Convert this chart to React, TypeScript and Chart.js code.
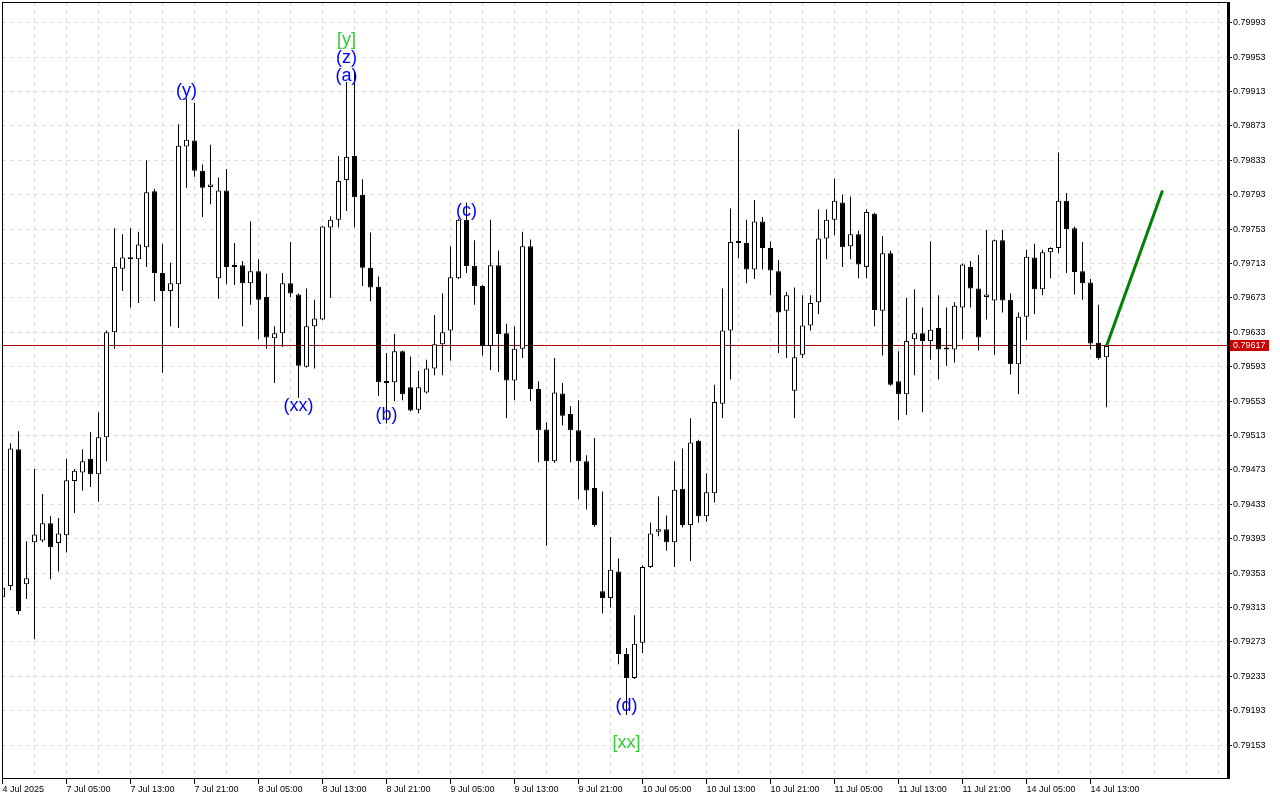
import React, { useEffect, useRef } from "react";
import { Chart, registerables } from "chart.js";

Chart.register(...registerables);

// ---- H1 candles (index 0 = first visible bar) ----
const openP = [
  0.79325, 0.79338, 0.79497, 0.79340, 0.79389, 0.79391, 0.79411, 0.79388, 0.79397, 0.79460,
  0.79470, 0.79486, 0.79468, 0.79511, 0.79633, 0.79707, 0.79720, 0.79718, 0.79732, 0.79797,
  0.79702, 0.79681, 0.79689, 0.79849, 0.79856, 0.79821, 0.79802, 0.79696, 0.79798, 0.79711,
  0.79711, 0.79690, 0.79704, 0.79674, 0.79626, 0.79632, 0.79690, 0.79677, 0.79593, 0.79640,
  0.79648, 0.79755, 0.79764, 0.79810, 0.79838, 0.79793, 0.79708, 0.79686, 0.79574, 0.79575,
  0.79611, 0.79569, 0.79543, 0.79563, 0.79591, 0.79619, 0.79635, 0.79696, 0.79764, 0.79710,
  0.79687, 0.79617, 0.79711, 0.79632, 0.79577, 0.79614, 0.79733, 0.79567, 0.79520, 0.79483,
  0.79562, 0.79538, 0.79519, 0.79483, 0.79452, 0.79332, 0.79324, 0.79355, 0.79259, 0.79231,
  0.79272, 0.79360, 0.79401, 0.79404, 0.79389, 0.79451, 0.79409, 0.79507, 0.79419, 0.79446,
  0.79550, 0.79635, 0.79739, 0.79737, 0.79706, 0.79762, 0.79731, 0.79704, 0.79658, 0.79565,
  0.79607, 0.79641, 0.79668, 0.79742, 0.79764, 0.79784, 0.79733, 0.79747, 0.79709, 0.79771,
  0.79658, 0.79725, 0.79576, 0.79561, 0.79625, 0.79632, 0.79623, 0.79638, 0.79613, 0.79613,
  0.79662, 0.79709, 0.79684, 0.79674, 0.79670, 0.79740, 0.79671, 0.79596, 0.79651, 0.79720,
  0.79683, 0.79726, 0.79731, 0.79786, 0.79754, 0.79704, 0.79691, 0.79621, 0.79604,
];
const highP = [
  0.79340, 0.79504, 0.79518, 0.79390, 0.79474, 0.79445, 0.79419, 0.79417, 0.79486, 0.79474,
  0.79497, 0.79517, 0.79540, 0.79635, 0.79754, 0.79747, 0.79754, 0.79750, 0.79833, 0.79800,
  0.79736, 0.79714, 0.79875, 0.79905, 0.79900, 0.79828, 0.79851, 0.79813, 0.79823, 0.79737,
  0.79716, 0.79762, 0.79718, 0.79701, 0.79640, 0.79702, 0.79738, 0.79678, 0.79684, 0.79671,
  0.79757, 0.79768, 0.79838, 0.79924, 0.79936, 0.79811, 0.79749, 0.79698, 0.79609, 0.79631,
  0.79612, 0.79605, 0.79588, 0.79601, 0.79653, 0.79678, 0.79733, 0.79765, 0.79784, 0.79740,
  0.79688, 0.79764, 0.79728, 0.79643, 0.79640, 0.79750, 0.79741, 0.79576, 0.79528, 0.79603,
  0.79574, 0.79547, 0.79554, 0.79490, 0.79510, 0.79448, 0.79395, 0.79370, 0.79266, 0.79304,
  0.79362, 0.79412, 0.79442, 0.79420, 0.79483, 0.79498, 0.79533, 0.79508, 0.79469, 0.79572,
  0.79684, 0.79777, 0.79869, 0.79764, 0.79787, 0.79767, 0.79739, 0.79717, 0.79680, 0.79685,
  0.79676, 0.79676, 0.79776, 0.79776, 0.79812, 0.79793, 0.79791, 0.79751, 0.79776, 0.79772,
  0.79745, 0.79728, 0.79611, 0.79673, 0.79683, 0.79662, 0.79739, 0.79676, 0.79662, 0.79668,
  0.79713, 0.79716, 0.79723, 0.79752, 0.79741, 0.79752, 0.79678, 0.79656, 0.79729, 0.79736,
  0.79729, 0.79732, 0.79842, 0.79795, 0.79756, 0.79738, 0.79695, 0.79665, 0.79617,
];
const lowP = [
  0.79322, 0.79333, 0.79305, 0.79323, 0.79276, 0.79389, 0.79346, 0.79355, 0.79377, 0.79423,
  0.79449, 0.79453, 0.79436, 0.79483, 0.79614, 0.79681, 0.79662, 0.79667, 0.79709, 0.79669,
  0.79586, 0.79640, 0.79638, 0.79801, 0.79814, 0.79767, 0.79782, 0.79672, 0.79689, 0.79688,
  0.79640, 0.79665, 0.79625, 0.79614, 0.79574, 0.79616, 0.79674, 0.79557, 0.79592, 0.79591,
  0.79647, 0.79673, 0.79755, 0.79774, 0.79755, 0.79687, 0.79669, 0.79559, 0.79527, 0.79553,
  0.79554, 0.79541, 0.79539, 0.79562, 0.79583, 0.79583, 0.79600, 0.79695, 0.79702, 0.79665,
  0.79606, 0.79589, 0.79587, 0.79533, 0.79554, 0.79603, 0.79553, 0.79482, 0.79385, 0.79481,
  0.79525, 0.79482, 0.79439, 0.79427, 0.79407, 0.79306, 0.79313, 0.79247, 0.79188, 0.79230,
  0.79260, 0.79359, 0.79396, 0.79379, 0.79360, 0.79406, 0.79367, 0.79412, 0.79413, 0.79435,
  0.79533, 0.79578, 0.79719, 0.79690, 0.79695, 0.79706, 0.79676, 0.79609, 0.79603, 0.79533,
  0.79603, 0.79635, 0.79654, 0.79718, 0.79746, 0.79709, 0.79718, 0.79696, 0.79696, 0.79640,
  0.79606, 0.79571, 0.79531, 0.79537, 0.79583, 0.79540, 0.79601, 0.79578, 0.79594, 0.79598,
  0.79625, 0.79662, 0.79612, 0.79648, 0.79607, 0.79656, 0.79584, 0.79561, 0.79624, 0.79654,
  0.79676, 0.79696, 0.79725, 0.79702, 0.79677, 0.79671, 0.79613, 0.79601, 0.79546,
];
const closeP = [
  0.79336, 0.79498, 0.79309, 0.79347, 0.79398, 0.79411, 0.79383, 0.79399, 0.79461, 0.79472,
  0.79483, 0.79468, 0.79511, 0.79633, 0.79709, 0.79720, 0.79718, 0.79735, 0.79796, 0.79702,
  0.79681, 0.79690, 0.79850, 0.79857, 0.79821, 0.79801, 0.79805, 0.79798, 0.79709, 0.79709,
  0.79690, 0.79704, 0.79671, 0.79627, 0.79632, 0.79690, 0.79678, 0.79594, 0.79640, 0.79649,
  0.79756, 0.79764, 0.79809, 0.79837, 0.79790, 0.79708, 0.79685, 0.79575, 0.79576, 0.79611,
  0.79561, 0.79542, 0.79569, 0.79591, 0.79619, 0.79633, 0.79697, 0.79764, 0.79710, 0.79687,
  0.79617, 0.79711, 0.79631, 0.79577, 0.79614, 0.79733, 0.79567, 0.79519, 0.79483, 0.79563,
  0.79536, 0.79519, 0.79483, 0.79449, 0.79409, 0.79324, 0.79357, 0.79259, 0.79231, 0.79271,
  0.79360, 0.79399, 0.79404, 0.79389, 0.79450, 0.79409, 0.79505, 0.79419, 0.79447, 0.79552,
  0.79635, 0.79738, 0.79737, 0.79706, 0.79762, 0.79731, 0.79705, 0.79656, 0.79676, 0.79604,
  0.79641, 0.79667, 0.79742, 0.79764, 0.79786, 0.79732, 0.79747, 0.79712, 0.79773, 0.79659,
  0.79725, 0.79572, 0.79561, 0.79623, 0.79632, 0.79623, 0.79636, 0.79613, 0.79613, 0.79664,
  0.79712, 0.79684, 0.79627, 0.79677, 0.79740, 0.79670, 0.79596, 0.79651, 0.79721, 0.79683,
  0.79726, 0.79731, 0.79786, 0.79753, 0.79703, 0.79690, 0.79620, 0.79603, 0.79617,
];

// time labels, one every LABEL_EVERY bars starting at bar 0
const timeLabels = [
  "4 Jul 2025", "7 Jul 05:00", "7 Jul 13:00", "7 Jul 21:00", "8 Jul 05:00", "8 Jul 13:00",
  "8 Jul 21:00", "9 Jul 05:00", "9 Jul 13:00", "9 Jul 21:00", "10 Jul 05:00", "10 Jul 13:00",
  "10 Jul 21:00", "11 Jul 05:00", "11 Jul 13:00", "11 Jul 21:00", "14 Jul 05:00", "14 Jul 13:00",
];
const LABEL_EVERY = 8;
const GRID_EVERY = 4;

const priceTicks = [
  0.79993, 0.79953, 0.79913, 0.79873, 0.79833, 0.79793, 0.79753, 0.79713, 0.79673, 0.79633,
  0.79593, 0.79553, 0.79513, 0.79473, 0.79433, 0.79393, 0.79353, 0.79313, 0.79273, 0.79233,
  0.79193, 0.79153,
];
const currentPrice = 0.79617;

// projection line (bar index, price)
const projX = [138, 145];
const projY = [0.79617, 0.79798];

// wave labels
const waveText = ["(y)", "(xx)", "[y]", "(z)", "(a)", "(b)", "(c)", "(d)", "[xx]"];
const waveIndex = [23, 37, 43, 43, 43, 48, 58, 78, 78];
const wavePrice = [0.79914, 0.79547, 0.79973, 0.79952, 0.79931, 0.79537, 0.79774, 0.79199, 0.79155];
const waveColor = ["#0000ff", "#0000ff", "#32cd32", "#0000ff", "#0000ff", "#0000ff", "#0000ff", "#0000ff", "#32cd32"];

const Y_MIN = 0.791136;
const Y_MAX = 0.800171;
const X_MIN = -0.0625;
const X_MAX = 153.0625;

const FONT = "'Liberation Sans', Arial, sans-serif";

export default function App() {
  const ref = useRef<HTMLCanvasElement>(null);

  useEffect(() => {
    const canvas = ref.current;
    if (!canvas) return;
    const bodies = openP.map((o, i) => ({ x: i, y: [o, closeP[i]] }));
    const wicks = openP.map((_, i) => ({ x: i, y: [lowP[i], highP[i]] }));
    const bull = openP.map((o, i) => closeP[i] >= o);
    const proj = projX.map((x, i) => ({ x, y: projY[i] }));

    const gridTicks: number[] = [];
    for (let v = 0; v <= X_MAX; v += GRID_EVERY) gridTicks.push(v);

    const hasLabel = (v: number) => {
      const n = Math.round(v);
      return n % LABEL_EVERY === 0 && n / LABEL_EVERY < timeLabels.length;
    };

    const overlay = {
      id: "overlay",
      beforeDatasetsDraw(chart: any) {
        const { ctx, chartArea: a, scales } = chart;
        const y = Math.round(scales.y.getPixelForValue(currentPrice)) - 0.5;
        ctx.save();
        ctx.strokeStyle = "#b40000";
        ctx.lineWidth = 1;
        ctx.beginPath();
        ctx.moveTo(a.left, y);
        ctx.lineTo(a.right, y);
        ctx.stroke();
        ctx.restore();
      },
      afterDatasetsDraw(chart: any) {
        const { ctx, scales } = chart;
        ctx.save();
        ctx.font = `18px ${FONT}`;
        ctx.textAlign = "center";
        ctx.textBaseline = "middle";
        waveText.forEach((t, k) => {
          ctx.fillStyle = waveColor[k];
          ctx.fillText(t, scales.x.getPixelForValue(waveIndex[k]), scales.y.getPixelForValue(wavePrice[k]));
        });
        ctx.restore();
      },
      afterDraw(chart: any) {
        const { ctx, chartArea: a, scales } = chart;
        ctx.save();
        ctx.fillStyle = "#000";
        ctx.fillRect(a.left, a.top, a.right - a.left + 3, 1);
        ctx.fillRect(a.left, a.top, 1, a.bottom - a.top);
        ctx.fillRect(a.left, a.bottom - 1, a.right - a.left, 1);
        ctx.fillRect(a.right, a.top, 3, a.bottom - a.top);
        const y = Math.round(scales.y.getPixelForValue(currentPrice));
        ctx.fillStyle = "#c80000";
        ctx.fillRect(a.right + 3, y - 6, 39, 11);
        ctx.fillStyle = "#fff";
        ctx.font = `9px ${FONT}`;
        ctx.textAlign = "left";
        ctx.textBaseline = "middle";
        ctx.fillText(currentPrice.toFixed(5), a.right + 6, y);
        ctx.restore();
      },
    };

    const chart = new Chart(canvas, {
      type: "bar",
      data: {
        datasets: [
          {
            type: "line",
            data: proj,
            borderColor: "#008000",
            borderWidth: 3,
            pointRadius: 0,
            order: 0,
          } as any,
          {
            type: "bar",
            data: bodies as any,
            backgroundColor: bull.map((b) => (b ? "#ffffff" : "#000000")),
            borderColor: "#000000",
            borderWidth: 1,
            borderSkipped: false,
            barThickness: 5,
            grouped: false,
            inflateAmount: 0,
            minBarLength: 2,
            order: 1,
          } as any,
          {
            type: "bar",
            data: wicks as any,
            backgroundColor: "#000000",
            borderWidth: 0,
            barThickness: 1,
            grouped: false,
            inflateAmount: 0,
            order: 2,
          } as any,
        ],
      },
      options: {
        responsive: false,
        maintainAspectRatio: false,
        animation: false,
        events: [],
        layout: { padding: { left: 2, top: 2, right: 0, bottom: 0 } },
        plugins: { legend: { display: false }, tooltip: { enabled: false } },
        scales: {
          x: {
            type: "linear",
            min: X_MIN,
            max: X_MAX,
            offset: false,
            bounds: "data",
            afterBuildTicks: (s: any) => {
              s.ticks = gridTicks.map((v) => ({ value: v }));
            },
            afterFit: (s: any) => {
              s.height = 21;
              s.paddingLeft = 0;
              s.paddingRight = 0;
            },
            grid: {
              offset: false,
              color: "#dedede",
              lineWidth: 1,
              drawTicks: true,
              tickLength: 5,
              tickWidth: 1,
              tickColor: (c: any) => (c.tick && hasLabel(c.tick.value) ? "#000000" : "rgba(0,0,0,0)"),
            },
            border: { display: false, dash: [4, 4] },
            ticks: {
              autoSkip: false,
              maxRotation: 0,
              minRotation: 0,
              align: "start",
              padding: 0,
              color: "#000",
              font: { family: FONT, size: 9 },
              callback: (v: any) => {
                const n = Math.round(Number(v));
                return hasLabel(n) ? timeLabels[n / LABEL_EVERY] : "";
              },
            },
          } as any,
          y: {
            type: "linear",
            position: "right",
            min: Y_MIN,
            max: Y_MAX,
            bounds: "data",
            beginAtZero: false,
            afterBuildTicks: (s: any) => {
              s.ticks = priceTicks.map((v) => ({ value: v }));
            },
            afterFit: (s: any) => {
              s.width = 53;
              s.paddingTop = 0;
              s.paddingBottom = 0;
            },
            grid: {
              color: "#dedede",
              lineWidth: 1,
              drawTicks: true,
              tickLength: 5,
              tickColor: "#000000",
              tickWidth: 1,
            },
            border: { display: false, dash: [4, 4] },
            ticks: {
              autoSkip: false,
              padding: 1,
              color: "#000",
              crossAlign: "near",
              font: { family: FONT, size: 9 },
              callback: (v: any) => Number(v).toFixed(5),
            },
          } as any,
        },
      },
      plugins: [overlay],
    });

    return () => chart.destroy();
  }, []);

  return (
    <div style={{ position: "fixed", left: 0, top: 0, width: 1280, height: 800, background: "#fff" }}>
      <canvas ref={ref} width={1280} height={800} style={{ display: "block", width: 1280, height: 800 }} />
    </div>
  );
}
